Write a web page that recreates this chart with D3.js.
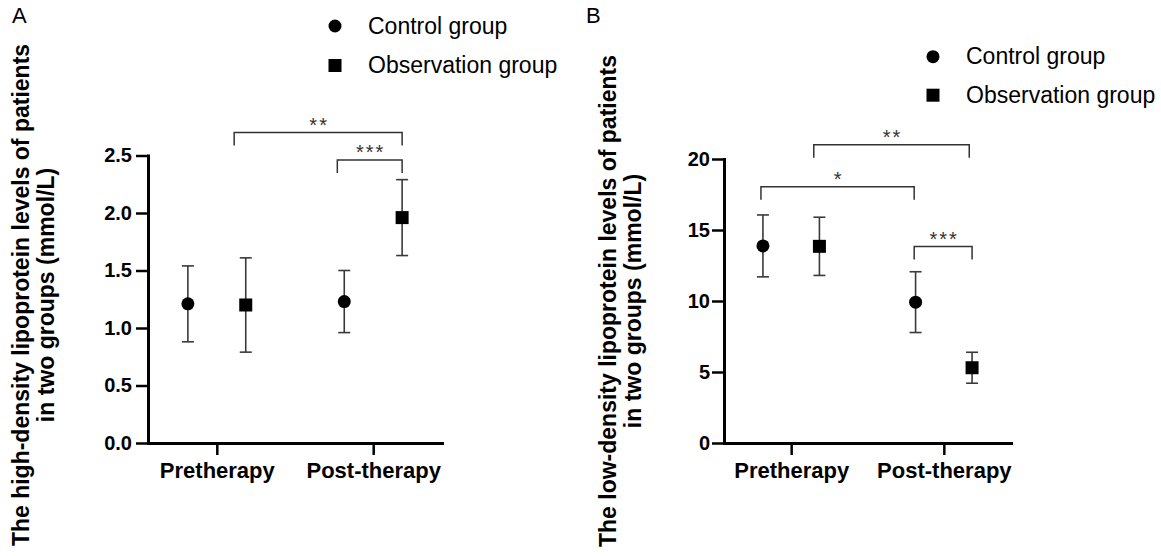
<!DOCTYPE html>
<html>
<head>
<meta charset="utf-8">
<script src="https://cdn.jsdelivr.net/npm/d3@7"></script>
<style>
  body { margin: 0; background: #fff; }
  svg { display: block; }
  text { font-family: "Liberation Sans", Arial, sans-serif; }
</style>
</head>
<body>
<div id="chart"></div>
<script>
// shared categories / groups
const categories = ['Pretherapy', 'Post-therapy'];
const groupNames = ['Control group', 'Observation group'];

// panel A: high-density lipoprotein (mmol/L), mean and SD
const hdlTicks = [0, 0.5, 1.0, 1.5, 2.0, 2.5];
const hdlControlMean = [1.21, 1.23];
const hdlControlSD = [0.33, 0.27];
const hdlObservationMean = [1.20, 1.96];
const hdlObservationSD = [0.41, 0.33];
// brackets: [category index, dodge] ends, level in data units
const hdlBrackets = [
  { from: [0, 0.6], to: [1, 1.0], level: 2.70, label: '**' },
  { from: [1, -1.24], to: [1, 1.0], level: 2.46, label: '***' }
];

// panel B: low-density lipoprotein (mmol/L), mean and SD
const ldlTicks = [0, 5, 10, 15, 20];
const ldlControlMean = [13.88, 9.92];
const ldlControlSD = [2.18, 2.14];
const ldlObservationMean = [13.85, 5.3];
const ldlObservationSD = [2.05, 1.09];
const ldlBrackets = [
  { from: [0, 0.8], to: [1, 0.9], level: 21.0, label: '**' },
  { from: [0, -1.07], to: [1, -1.05], level: 18.05, label: '*' },
  { from: [1, -1.05], to: [1, 1.0], level: 13.83, label: '***' }
];

const width = 1161, height = 556;

const svg = d3.select('#chart')
  .append('svg')
  .attr('width', width)
  .attr('height', height);

function drawPanel(p) {
  const x = d3.scalePoint().domain(categories).range([p.left, p.right]).padding(0.44);
  const y = d3.scaleLinear().domain([0, p.max]).range([p.bottom, p.top]);
  const dodge = x.step() * 0.185;
  const px = (cat, d) => x(categories[cat]) + d * dodge;

  const g = svg.append('g');

  // panel letter
  g.append('text')
    .attr('x', p.labelX)
    .attr('y', 22.5)
    .style('font-size', '22px')
    .text(p.label);

  // y axis title, two lines
  const title = g.append('g')
    .attr('transform', `translate(0, ${p.titleCY}) rotate(-90)`);
  p.titleLines.forEach((line, i) => {
    title.append('text')
      .attr('x', 0)
      .attr('y', p.titleX[i])
      .attr('text-anchor', 'middle')
      .style('font-size', '23px')
      .style('font-weight', 'bold')
      .attr('fill', '#000')
      .text(line);
  });

  // axes
  const yAxis = g.append('g')
    .attr('transform', `translate(${p.left},0)`)
    .call(d3.axisLeft(y).tickValues(p.ticks).tickFormat(p.format)
      .tickSize(12).tickSizeOuter(0).tickPadding(p.tickPad));

  const xAxis = g.append('g')
    .attr('transform', `translate(0,${p.bottom})`)
    .call(d3.axisBottom(x).tickSize(12).tickSizeOuter(0).tickPadding(7));

  [yAxis, xAxis].forEach(a => {
    a.attr('font-family', null).attr('font-size', null);
    a.select('.domain').attr('stroke', '#000').attr('stroke-width', 3).attr('stroke-linecap', 'square');
    a.selectAll('.tick line').attr('stroke', '#000').attr('stroke-width', 2.5);
    a.selectAll('.tick text').attr('fill', '#000').style('font-weight', 'bold');
  });
  yAxis.selectAll('.tick text').style('font-size', '20px');
  xAxis.selectAll('.tick text').style('font-size', '22px');

  // error bars + markers
  const series = [
    { name: groupNames[0], mean: p.controlMean, sd: p.controlSD, dodge: -1, shape: 'circle' },
    { name: groupNames[1], mean: p.obsMean, sd: p.obsSD, dodge: 1, shape: 'square' }
  ];

  series.forEach(s => {
    const pts = s.mean.map((m, i) => ({ cx: px(i, s.dodge), m: m, sd: s.sd[i] }));
    const eg = g.append('g').attr('stroke', '#3a3a3a').attr('stroke-width', 1.6).attr('fill', 'none');
    eg.selectAll('line.v').data(pts).enter().append('line')
      .attr('x1', d => d.cx).attr('x2', d => d.cx)
      .attr('y1', d => y(d.m + d.sd)).attr('y2', d => y(d.m - d.sd));
    eg.selectAll('line.top').data(pts).enter().append('line')
      .attr('x1', d => d.cx - 6).attr('x2', d => d.cx + 6)
      .attr('y1', d => y(d.m + d.sd)).attr('y2', d => y(d.m + d.sd));
    eg.selectAll('line.bot').data(pts).enter().append('line')
      .attr('x1', d => d.cx - 6).attr('x2', d => d.cx + 6)
      .attr('y1', d => y(d.m - d.sd)).attr('y2', d => y(d.m - d.sd));

    if (s.shape === 'circle') {
      g.selectAll(null).data(pts).enter().append('circle')
        .attr('cx', d => d.cx).attr('cy', d => y(d.m)).attr('r', 6.5).attr('fill', '#000');
    } else {
      g.selectAll(null).data(pts).enter().append('rect')
        .attr('x', d => d.cx - 6.5).attr('y', d => y(d.m) - 6.5)
        .attr('width', 13).attr('height', 13).attr('fill', '#000');
    }
  });

  // significance brackets
  p.brackets.forEach(b => {
    const x1 = px(b.from[0], b.from[1]);
    const x2 = px(b.to[0], b.to[1]);
    const yy = y(b.level);
    g.append('path')
      .attr('d', `M${x1},${yy + 13}V${yy}H${x2}V${yy + 13}`)
      .attr('fill', 'none')
      .attr('stroke', '#333')
      .attr('stroke-width', 1.5);
    g.append('text')
      .attr('x', (x1 + x2) / 2 + 1)
      .attr('y', yy - 1)
      .attr('text-anchor', 'middle')
      .style('font-size', '20px')
      .style('letter-spacing', '2px')
      .attr('fill', '#333')
      .text(b.label);
  });

  // legend
  series.forEach((s, i) => {
    const ly = p.legendY + i * p.legendGap;
    if (s.shape === 'circle') {
      g.append('circle').attr('cx', p.legendX).attr('cy', ly).attr('r', 6.5).attr('fill', '#000');
    } else {
      g.append('rect').attr('x', p.legendX - 6.5).attr('y', ly - 6.5)
        .attr('width', 13).attr('height', 13).attr('fill', '#000');
    }
    g.append('text')
      .attr('x', p.legendX + 33)
      .attr('y', ly + 7.5)
      .style('font-size', '23px')
      .attr('fill', '#000')
      .text(s.name);
  });
}

drawPanel({
  label: 'A', labelX: 12,
  left: 148, right: 442, top: 155.5, bottom: 443, max: 2.5,
  ticks: hdlTicks, format: d3.format('.1f'), tickPad: 4,
  controlMean: hdlControlMean, controlSD: hdlControlSD,
  obsMean: hdlObservationMean, obsSD: hdlObservationSD,
  brackets: hdlBrackets,
  titleLines: ['The high-density lipoprotein levels of patients', 'in two groups (mmol/L)'],
  titleX: [29, 54], titleCY: 295,
  legendX: 335, legendY: 26, legendGap: 39.5
});

drawPanel({
  label: 'B', labelX: 586,
  left: 724, right: 1011, top: 159, bottom: 443, max: 20,
  ticks: ldlTicks, format: d3.format('d'), tickPad: 2,
  controlMean: ldlControlMean, controlSD: ldlControlSD,
  obsMean: ldlObservationMean, obsSD: ldlObservationSD,
  brackets: ldlBrackets,
  titleLines: ['The low-density lipoprotein levels of patients', 'in two groups (mmol/L)'],
  titleX: [616, 641], titleCY: 301,
  legendX: 933, legendY: 56.7, legendGap: 38.5
});
</script>
</body>
</html>
